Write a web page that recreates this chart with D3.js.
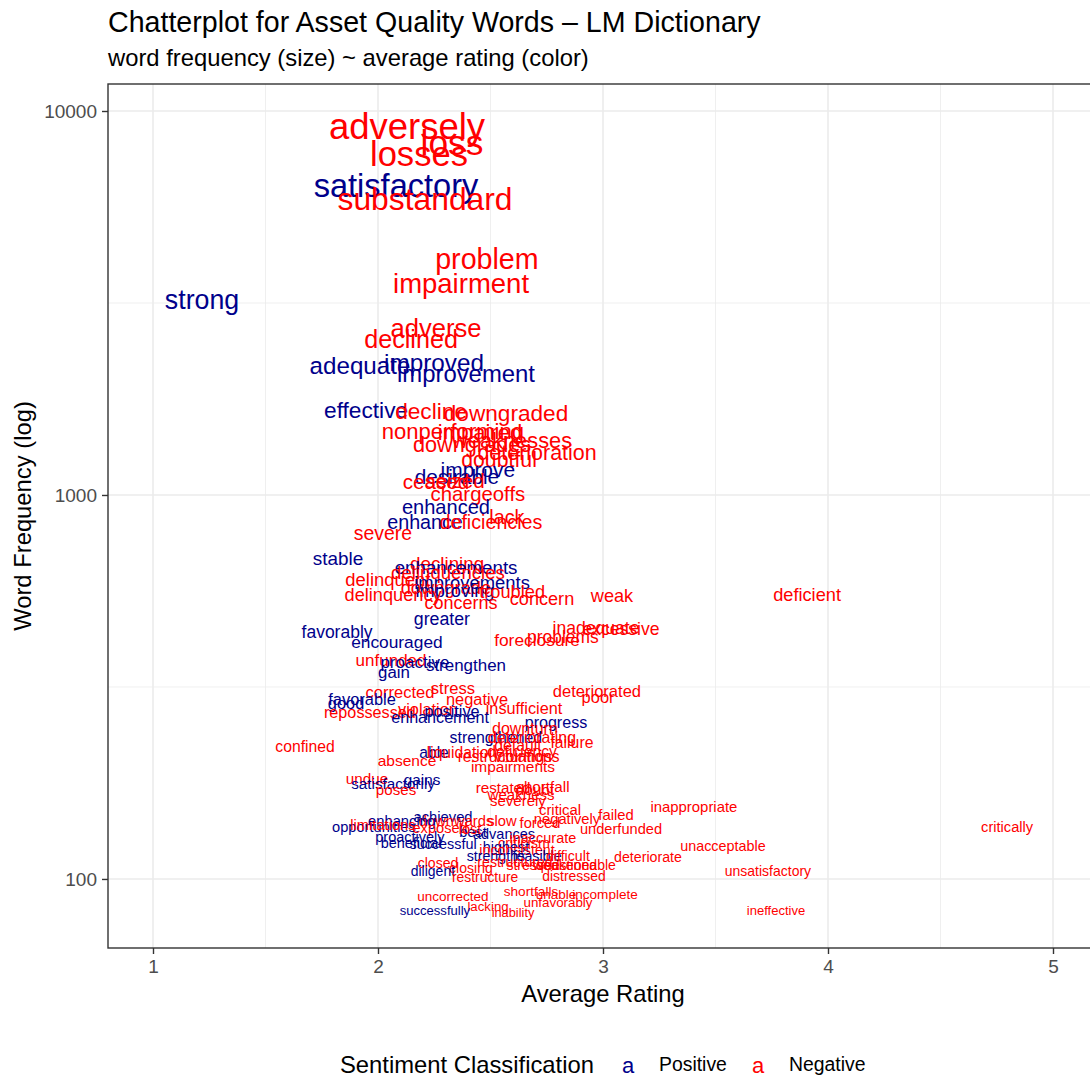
<!DOCTYPE html>
<html>
<head>
<meta charset="utf-8">
<script src="https://cdn.jsdelivr.net/npm/d3@7"></script>
<style>
  body { margin: 0; background: #fff; }
  svg { display: block; font-family: "Liberation Sans", Arial, Helvetica, sans-serif; }
</style>
</head>
<body>
<svg id="chart" width="1090" height="1078"></svg>
<script>
// ---- data -------------------------------------------------------------
const words = [
  "adversely","loss","losses","satisfactory","substandard","problem","impairment","strong",
  "adverse","declined","adequate","improved","improvement","effective","decline","downgraded",
  "nonperforming","impaired","downgrades","weaknesses","deterioration","doubtful","improve","desirable",
  "ceased","seized","chargeoffs","enhanced","lack","enhance","deficiencies","severe",
  "stable","declining","enhancements","delinquencies","delinquent","improvements","downgrade","improving",
  "troubled","delinquency","concerns","concern","weak","deficient","greater","favorably",
  "inadequate","excessive","problems","foreclosure","encouraged","unfunded","proactive","strengthen",
  "gain","stress","corrected","deteriorated","poor","favorable","negative","good",
  "repossessed","violation","positive","insufficient","enhancement","progress","downturn","strengthened",
  "deteriorating","failure","default","confined","able","liquidation","deficiency","restructurings",
  "violations","absence","impairments","undue","gains","satisfactorily","poses","restated",
  "shortfall","doubt","weakness","severely","critical","failed","inappropriate","achieved",
  "downwards","enhancing","slow","forced","negatively","underfunded","critically","opportunities",
  "limitations","exposed","proactively","advances","best","lost","inaccurate","beneficial",
  "successful","criticism","highest","inconsistent","unacceptable","strengths","feasible","difficult",
  "deteriorate","restructured","closed","stressed","weakened","questionable","closing","diligent",
  "unsatisfactory","distressed","restructure","shortfalls","unable","incomplete","uncorrected","unfavorably",
  "lacking","inability","successfully","ineffective"
];

const avgRating = [
  2.129,2.329,2.182,2.080,2.209,2.484,2.369,1.218,
  2.258,2.147,1.920,2.249,2.391,1.947,2.236,2.569,
  2.333,2.453,2.418,2.596,2.707,2.538,2.444,2.351,
  2.258,2.342,2.444,2.302,2.573,2.209,2.502,2.022,
  1.822,2.307,2.347,2.311,2.044,2.418,2.302,2.342,
  2.596,2.067,2.369,2.729,3.040,3.907,2.284,1.818,
  2.969,3.080,2.822,2.707,2.084,2.058,2.164,2.391,
  2.071,2.333,2.098,2.973,2.978,1.929,2.440,1.858,
  1.964,2.222,2.329,2.649,2.276,2.791,2.653,2.524,
  2.684,2.862,2.622,1.676,2.249,2.373,2.640,2.564,
  2.662,2.129,2.600,1.951,2.196,2.067,2.080,2.556,
  2.733,2.698,2.636,2.622,2.809,3.058,3.404,2.289,
  2.347,2.107,2.551,2.720,2.840,3.080,4.796,1.982,
  2.022,2.276,2.142,2.560,2.422,2.409,2.733,2.147,
  2.289,2.649,2.569,2.618,3.533,2.524,2.707,2.844,
  3.200,2.609,2.267,2.689,2.831,2.880,2.413,2.244,
  3.733,2.871,2.476,2.680,2.791,3.009,2.333,2.800,
  2.489,2.600,2.253,3.769
];

const wordFreq = [
  9141,8260,7727,6383,5902,4121,3565,3221,
  2723,2547,2167,2207,2065,1663,1655,1635,
  1468,1459,1358,1391,1294,1233,1162,1114,
  1081,1087,1006,931,877,851,851,796,
  685,665,649,627,601,590,573,562,
  559,550,523,536,546,550,475,440,
  451,448,427,419,414,372,367,361,
  346,314,307,309,298,294,293,286,
  271,276,274,279,263,255,247,234,
  233,227,223,221,213,213,215,208,
  208,204,196,182,181,177,171,173,
  174,171,166,160,151,147,154,145,
  142,142,142,140,143,135,137,137,
  138,136,129,131,133,135,128,124,
  123,124,121,119,122,115,115,115,
  114,111,110,109,109,109,107,105,
  105,102,101,93,91,91,90,87,
  85,82,83,83
];

const sentiment = [
  "Negative","Negative","Negative","Positive","Negative","Negative","Negative","Positive",
  "Negative","Negative","Positive","Positive","Positive","Positive","Negative","Negative",
  "Negative","Negative","Negative","Negative","Negative","Negative","Positive","Positive",
  "Negative","Negative","Negative","Positive","Negative","Positive","Negative","Negative",
  "Positive","Negative","Positive","Negative","Negative","Positive","Negative","Positive",
  "Negative","Negative","Negative","Negative","Negative","Negative","Positive","Positive",
  "Negative","Negative","Negative","Negative","Positive","Negative","Positive","Positive",
  "Positive","Negative","Negative","Negative","Negative","Positive","Negative","Positive",
  "Negative","Negative","Positive","Negative","Positive","Positive","Negative","Positive",
  "Negative","Negative","Negative","Negative","Positive","Negative","Negative","Negative",
  "Negative","Negative","Negative","Negative","Positive","Positive","Negative","Negative",
  "Negative","Negative","Negative","Negative","Negative","Negative","Negative","Positive",
  "Negative","Positive","Negative","Negative","Negative","Negative","Negative","Positive",
  "Negative","Negative","Positive","Positive","Positive","Negative","Negative","Positive",
  "Positive","Negative","Positive","Negative","Negative","Positive","Positive","Negative",
  "Negative","Negative","Negative","Negative","Negative","Negative","Negative","Positive",
  "Negative","Negative","Negative","Negative","Negative","Negative","Negative","Negative",
  "Negative","Negative","Positive","Negative"
];

const legendLabels = ["Positive", "Negative"];
const legendColors = ["#00008B", "#FF0000"];
const xTicks = [1, 2, 3, 4, 5];
const xMinorBreaks = [1.5, 2.5, 3.5, 4.5];
const yTicks = [100, 1000, 10000];
const yMinorBreaks = [316.2, 3162];

const titleText = "Chatterplot for Asset Quality Words \u2013 LM Dictionary";
const subtitleText = "word frequency (size) ~ average rating (color)";
const xLabel = "Average Rating";
const yLabel = "Word Frequency (log)";
const legendTitle = "Sentiment Classification";

// ---- layout -----------------------------------------------------------
const panel = { left: 108, top: 84, right: 1098, bottom: 948 };
const svg = d3.select("#chart");

const x = d3.scaleLinear().domain([0.8, 5.2]).range([panel.left, panel.right]);
const y = d3.scaleLog().domain([66.1, 11757]).range([panel.bottom, panel.top]);
const color = d3.scaleOrdinal().domain(legendLabels).range(legendColors);

// word size grows with the square root of the rescaled frequency
const freqNorm = d3.scaleLinear().domain(d3.extent(wordFreq)).range([0, 1]);
const sizeScale = d3.scaleSqrt().domain([0, 1]).range([12.8, 36.5]);
const fontSize = f => sizeScale(freqNorm(f));

// ---- titles -----------------------------------------------------------
svg.append("text").attr("x", 108).attr("y", 32)
  .attr("font-size", 28.6).attr("fill", "#000").text(titleText);
svg.append("text").attr("x", 108).attr("y", 66)
  .attr("font-size", 23.8).attr("fill", "#000").text(subtitleText);

// ---- panel background & grid -----------------------------------------
svg.append("defs").append("clipPath").attr("id", "panel-clip")
  .append("rect")
  .attr("x", panel.left).attr("y", panel.top)
  .attr("width", panel.right - panel.left).attr("height", panel.bottom - panel.top);

const grid = svg.append("g").attr("clip-path", "url(#panel-clip)");
grid.selectAll("line.xminor").data(xMinorBreaks).join("line")
  .attr("x1", d => x(d)).attr("x2", d => x(d))
  .attr("y1", panel.top).attr("y2", panel.bottom)
  .attr("stroke", "#EBEBEB").attr("stroke-width", 0.8);
grid.selectAll("line.yminor").data(yMinorBreaks).join("line")
  .attr("y1", d => y(d)).attr("y2", d => y(d))
  .attr("x1", panel.left).attr("x2", panel.right)
  .attr("stroke", "#EBEBEB").attr("stroke-width", 0.8);
grid.selectAll("line.xmajor").data(xTicks).join("line")
  .attr("x1", d => x(d)).attr("x2", d => x(d))
  .attr("y1", panel.top).attr("y2", panel.bottom)
  .attr("stroke", "#EBEBEB").attr("stroke-width", 1.6);
grid.selectAll("line.ymajor").data(yTicks).join("line")
  .attr("y1", d => y(d)).attr("y2", d => y(d))
  .attr("x1", panel.left).attr("x2", panel.right)
  .attr("stroke", "#EBEBEB").attr("stroke-width", 1.6);

// ---- words ------------------------------------------------------------
const wordLayer = svg.append("g").attr("clip-path", "url(#panel-clip)");
wordLayer.selectAll("text").data(d3.range(words.length)).join("text")
  .attr("x", i => x(avgRating[i]))
  .attr("y", i => y(wordFreq[i]))
  .attr("dy", "0.35em")
  .attr("text-anchor", "middle")
  .attr("font-size", i => fontSize(wordFreq[i]).toFixed(2))
  .attr("fill", i => color(sentiment[i]))
  .text(i => words[i]);

// ---- panel border -----------------------------------------------------
svg.append("rect")
  .attr("x", panel.left).attr("y", panel.top)
  .attr("width", panel.right - panel.left).attr("height", panel.bottom - panel.top)
  .attr("fill", "none").attr("stroke", "#333333").attr("stroke-width", 1.4);

// ---- axes -------------------------------------------------------------
const xAxis = svg.append("g").attr("transform", `translate(0,${panel.bottom})`)
  .call(d3.axisBottom(x).tickValues(xTicks).tickFormat(d3.format("d")).tickSize(6).tickPadding(6));
const yAxis = svg.append("g").attr("transform", `translate(${panel.left},0)`)
  .call(d3.axisLeft(y).tickValues(yTicks).tickFormat(d3.format("d")).tickSize(6).tickPadding(5));

[xAxis, yAxis].forEach(a => {
  a.select(".domain").remove();
  a.selectAll(".tick line").attr("stroke", "#333333").attr("stroke-width", 1.4);
  a.selectAll(".tick text").attr("fill", "#4D4D4D").attr("font-size", 19)
    .attr("font-family", "Liberation Sans, Arial, Helvetica, sans-serif");
});

svg.append("text").attr("x", (panel.left + panel.right) / 2).attr("y", 1002)
  .attr("text-anchor", "middle").attr("font-size", 23.8).attr("fill", "#000").text(xLabel);
svg.append("text")
  .attr("transform", `translate(31,${(panel.top + panel.bottom) / 2}) rotate(-90)`)
  .attr("text-anchor", "middle").attr("font-size", 23.8).attr("fill", "#000").text(yLabel);

// ---- legend -----------------------------------------------------------
const legend = svg.append("g");
legend.append("text").attr("x", 340).attr("y", 1073)
  .attr("font-size", 23.8).attr("fill", "#000").text(legendTitle);
const keyX = [628, 758];
legendLabels.forEach((lab, i) => {
  legend.append("text").attr("x", keyX[i]).attr("y", 1073)
    .attr("text-anchor", "middle").attr("font-size", 22).attr("fill", color(lab)).text("a");
  legend.append("text").attr("x", keyX[i] + 31).attr("y", 1071)
    .attr("font-size", 19.4).attr("fill", "#000").text(lab);
});
</script>
</body>
</html>
